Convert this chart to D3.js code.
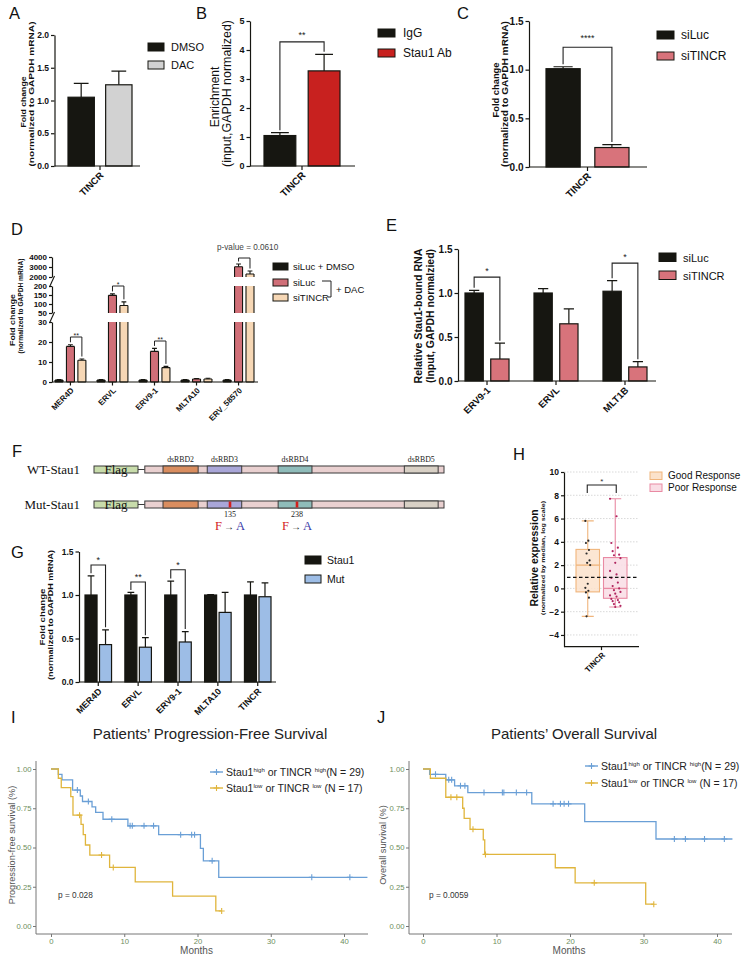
<!DOCTYPE html>
<html><head><meta charset="utf-8">
<script src="https://cdn.jsdelivr.net/npm/d3@7/dist/d3.min.js"></script>
<style>html,body{margin:0;padding:0;background:#fff;} svg{display:block;}</style>
</head><body>
<svg id="fig" width="742" height="961" xmlns="http://www.w3.org/2000/svg"></svg>
<script>
// ================= DATA =================
// Panel A
const aCategories = ["TINCR"];
const aSeries = ["DMSO", "DAC"];
const aValues = [[1.05], [1.24]];
const aErrors = [[0.21], [0.21]];
const aTicks = [0, 0.5, 1.0, 1.5, 2.0];
// Panel B
const bCategories = ["TINCR"];
const bSeries = ["IgG", "Stau1 Ab"];
const bValues = [[1.05], [3.28]];
const bErrors = [[0.10], [0.57]];
const bTicks = [0, 1, 2, 3, 4, 5];
const bSig = [{cat: "TINCR", a: 0, b: 1, level: 4.28, label: "**"}];
// Panel C
const cCategories = ["TINCR"];
const cSeries = ["siLuc", "siTINCR"];
const cValues = [[1.01], [0.20]];
const cErrors = [[0.02], [0.03]];
const cTicks = [0, 0.5, 1.0, 1.5];
const cSig = [{cat: "TINCR", a: 0, b: 1, level: 1.23, label: "****"}];
// Panel D
const dCategories = ["MER4D", "ERVL", "ERV9-1", "MLTA10", "ERV_58570"];
const dSeries = ["siLuc + DMSO", "siLuc", "siTINCR"];
const dValues = [[1, 1, 1, 1, 1], [17.8, 148, 15.3, 1.5, 3030], [10.9, 92, 7.2, 1.5, 2300]];
const dErrors = [[0.2, 0.2, 0.2, 0.2, 0.2], [0.8, 8, 1.5, 0.2, 270], [0.6, 20, 0.6, 0.4, 300]];
const dSegments = [[0, 30], [50, 200], [2000, 4000]];
const dTicks = [[0, 10, 20, 30], [50, 100, 150, 200], [2000, 3000, 4000]];
const dSig = [
  {cat: "MER4D", a: 1, b: 2, level: 22.5, label: "**"},
  {cat: "ERVL", a: 1, b: 2, level: 200, label: "*"},
  {cat: "ERV9-1", a: 1, b: 2, level: 20.5, label: "**"},
  {cat: "ERV_58570", a: 1, b: 2, level: 3900, label: ""}];
const dNote = "p-value = 0.0610";
// Panel E
const eCategories = ["ERV9-1", "ERVL", "MLT1B"];
const eSeries = ["siLuc", "siTINCR"];
const eValues = [[1.0, 1.0, 1.02], [0.25, 0.65, 0.16]];
const eErrors = [[0.03, 0.05, 0.12], [0.18, 0.17, 0.06]];
const eTicks = [0, 0.5, 1.0, 1.5];
const eSig = [{cat: "ERV9-1", a: 0, b: 1, level: 1.18, label: "*"}, {cat: "MLT1B", a: 0, b: 1, level: 1.34, label: "*"}];
// Panel F
const fRows = ["WT-Stau1", "Mut-Stau1"];
const fProtein = [4, 464];
const fDomains = ["dsRBD2", "dsRBD3", "dsRBD4", "dsRBD5"];
const fDomainStart = [32, 100, 209, 403];
const fDomainEnd = [86, 153, 261, 455];
const fMutations = [135, 238];
// Panel G
const gCategories = ["MER4D", "ERVL", "ERV9-1", "MLTA10", "TINCR"];
const gSeries = ["Stau1", "Mut"];
const gValues = [[1, 1, 1, 1, 1], [0.43, 0.40, 0.46, 0.80, 0.98]];
const gErrors = [[0.22, 0.03, 0.16, 0.005, 0.15], [0.17, 0.11, 0.12, 0.23, 0.16]];
const gTicks = [0, 0.5, 1.0, 1.5];
const gSig = [{cat: "MER4D", a: 0, b: 1, level: 1.345, label: "*"}, {cat: "ERVL", a: 0, b: 1, level: 1.15, label: "**"}, {cat: "ERV9-1", a: 0, b: 1, level: 1.29, label: "*"}];
// Panel H
const hCategories = ["TINCR"];
const hGroups = ["Good Response", "Poor Response"];
const hBoxStats = [[-2.4, -0.3, 2.0, 3.35, 5.8], [-1.6, -0.85, 0.0, 2.65, 7.7]]; // min,q1,median,q3,max
const hGoodPoints = [5.8, 4.1, 3.9, 3.3, 3.0, 2.4, 2.2, 2.0, 0.4, 0.05, -0.2, -0.35, -0.8, -2.4];
const hPoorPoints = [7.7, 6.2, 3.9, 3.5, 3.2, 2.9, 2.85, 2.6, 2.2, 1.5, 1.2, 0.9, 0.5, 0.2, 0.0, -0.15, -0.3, -0.45, -0.6, -0.7, -0.9, -1.0, -1.1, -1.2, -1.35, -1.5, -1.6];
const hTicks = [-4, -2, 0, 2, 4, 6, 8, 10];
const hReference = 0.95;
// Panel I (progression-free survival)
const iHighTimes = [0, 1.0, 1.5, 2.95, 4.0, 4.3, 5.6, 6.1, 7.1, 10.5, 14.7, 20.4, 20.8, 22.9];
const iHighSurv = [1, 0.966, 0.931, 0.866, 0.828, 0.793, 0.759, 0.724, 0.68, 0.638, 0.582, 0.495, 0.415, 0.31];
const iHighCensor = [3.6, 5.1, 8.3, 10.8, 11.1, 12.7, 14.0, 17.7, 19.2, 19.6, 22.0, 35.6, 40.8];
const iHighEnd = 43.2;
const iLowTimes = [0, 1.0, 1.4, 2.7, 3.0, 4.1, 4.4, 4.7, 5.3, 8.0, 11.5, 16.6, 22.5];
const iLowSurv = [1, 0.941, 0.882, 0.824, 0.706, 0.647, 0.582, 0.516, 0.452, 0.373, 0.281, 0.19, 0.096];
const iLowCensor = [3.9, 6.9, 8.5, 23.3];
const iLowEnd = 23.3;
const iPValue = "p = 0.028";
// Panel J (overall survival)
const jHighTimes = [0, 0.9, 3.1, 4.3, 6.1, 14.8, 22.0, 31.7];
const jHighSurv = [1, 0.966, 0.931, 0.893, 0.85, 0.778, 0.665, 0.554];
const jHighCensor = [1.7, 3.5, 3.9, 5.1, 5.7, 8.3, 10.8, 11.0, 12.7, 14.1, 17.7, 18.7, 19.2, 19.8, 34.2, 35.7, 38.3, 41.0];
const jHighEnd = 42.1;
const jLowTimes = [0, 1.0, 3.1, 5.4, 5.6, 6.4, 8.2, 8.4, 18.0, 20.7, 30.3];
const jLowSurv = [1, 0.941, 0.82, 0.75, 0.686, 0.616, 0.548, 0.456, 0.371, 0.275, 0.139];
const jLowCensor = [3.8, 4.6, 6.8, 8.5, 23.3, 31.4];
const jLowEnd = 31.4;
const jPValue = "p = 0.0059";
const kmTicksX = [0, 10, 20, 30, 40];
const kmTicksY = [0, 0.25, 0.5, 0.75, 1.0];
const kmLegendHigh = [["Stau1", 0], ["high", 1], [" or TINCR ", 0], ["high", 1], ["(N = 29)", 0]];
const kmLegendLow = [["Stau1", 0], ["low", 1], [" or TINCR ", 0], ["low", 1], [" (N = 17)", 0]];

// ================= DRAWING =================
const svg = d3.select("#fig");
const SANS = "'Liberation Sans', Arial, Helvetica, sans-serif";
const SERIF = "'Liberation Serif', 'Times New Roman', serif";
const INK = "#161611";

function addText(g, x, y, s, o = {}) {
  const t = g.append("text").attr("x", x).attr("y", y)
    .attr("font-family", o.family || SANS).attr("font-size", o.size || 10)
    .attr("font-weight", o.weight || "normal").attr("fill", o.fill || "#111")
    .attr("text-anchor", o.anchor || "start").text(s);
  if (o.len) t.attr("textLength", o.len).attr("lengthAdjust", "spacingAndGlyphs");
  return t;
}
function addRot(g, x, y, s, o = {}) {
  const t = g.append("text").attr("transform", `translate(${x},${y}) rotate(${o.angle ?? -90})`)
    .attr("font-family", o.family || SANS).attr("font-size", o.size || 10)
    .attr("font-weight", o.weight || "normal").attr("fill", o.fill || "#111")
    .attr("text-anchor", o.anchor || "middle").text(s);
  if (o.len) t.attr("textLength", o.len).attr("lengthAdjust", "spacingAndGlyphs");
  return t;
}
function styleTicks(ax, size, weight, fill) {
  ax.selectAll("text").attr("font-family", SANS).attr("font-size", size)
    .attr("font-weight", weight).attr("fill", fill || "#111");
}
function swatch(g, x, y, w, h, fill, stroke) {
  g.append("rect").attr("x", x).attr("y", y).attr("width", w).attr("height", h)
    .attr("fill", fill).attr("stroke", stroke || INK).attr("stroke-width", 1);
}

// panel letters
[["A", 9, 19], ["B", 196, 19], ["C", 457, 19], ["D", 11, 235], ["E", 386, 231], ["F", 12, 457],
 ["G", 11, 558], ["H", 513, 460], ["I", 11, 723], ["J", 377, 723]].forEach(([l, x, y]) =>
  addText(svg, x, y, l, {size: 16.5, fill: "#111"}));

// ---------- generic Prism-style grouped bar panel ----------
function barPanel(p) {
  const g = svg.append("g");
  const y = p.y, base = y(0);
  const gx = d3.scaleBand().domain(p.cats).range(p.barRange).paddingInner(p.gPad || 0).paddingOuter(0);
  const sx = d3.scaleBand().domain(d3.range(p.series.length)).range([0, gx.bandwidth()]).paddingInner(p.sPad);
  const bw = sx.bandwidth(), cap = bw * 0.28;
  const cx = (c, si) => gx(c) + sx(si) + bw / 2;
  p.series.forEach((s, si) => {
    const rows = p.cats.map((c, ci) => ({c, v: p.values[si][ci], e: p.errors[si][ci]}));
    g.selectAll(null).data(rows).join("path")
      .attr("d", d => `M${cx(d.c, si)},${y(d.v)}V${y(d.v + d.e)}M${cx(d.c, si) - cap},${y(d.v + d.e)}H${cx(d.c, si) + cap}`)
      .attr("stroke", INK).attr("stroke-width", 1.2).attr("fill", "none");
    g.selectAll(null).data(rows).join("rect")
      .attr("x", d => gx(d.c) + sx(si)).attr("width", bw)
      .attr("y", d => y(d.v)).attr("height", d => base - y(d.v))
      .attr("fill", p.colors[si]).attr("stroke", INK).attr("stroke-width", 1.2);
  });
  const ax = g.append("g").attr("transform", `translate(${p.axisX[0]},0)`)
    .call(d3.axisLeft(y).tickValues(p.ticks).tickFormat(p.fmt).tickSize(3.5).tickSizeOuter(0).tickPadding(2));
  ax.selectAll("path,line").attr("stroke", INK).attr("stroke-width", 1.2);
  styleTicks(ax, p.tickSize, "bold");
  g.append("line").attr("x1", p.axisX[0]).attr("x2", p.axisX[1]).attr("y1", base).attr("y2", base)
    .attr("stroke", INK).attr("stroke-width", 1.2);
  const gc = c => gx(c) + gx.bandwidth() / 2;
  g.selectAll(null).data(p.cats).join("line").attr("x1", gc).attr("x2", gc)
    .attr("y1", base).attr("y2", base + 4).attr("stroke", INK).attr("stroke-width", 1.2);
  g.selectAll(null).data(p.cats).join("text")
    .attr("transform", c => `translate(${gc(c) + 4},${base + 10}) rotate(-45)`)
    .attr("text-anchor", "end").attr("font-family", SANS).attr("font-weight", "bold")
    .attr("font-size", p.xSize).attr("fill", "#111").text(c => c);
  (p.sig || []).forEach(s => {
    const ci = p.cats.indexOf(s.cat);
    const x0 = cx(s.cat, s.a), x1 = cx(s.cat, s.b);
    const e0 = y(p.values[s.a][ci] + p.errors[s.a][ci]) - 2.5;
    const e1 = y(p.values[s.b][ci] + p.errors[s.b][ci]) - 2.5;
    const yl = y(s.level);
    g.append("path").attr("d", `M${x0},${e0}V${yl}H${x1}V${e1}`)
      .attr("fill", "none").attr("stroke", "#222").attr("stroke-width", 1.1);
    addText(g, (x0 + x1) / 2, yl - p.starOff, s.label, {size: p.starSize, anchor: "middle", fill: "#222"});
  });
  return g;
}

// ---------- A ----------
const gA = barPanel({cats: aCategories, series: aSeries, values: aValues, errors: aErrors,
  colors: [INK, "#d2d2d2"], y: d3.scaleLinear().domain([0, 2]).range([166, 35]),
  barRange: [68, 132], sPad: 0.3, axisX: [54.5, 140], ticks: aTicks, fmt: d3.format(".1f"),
  tickSize: 8.5, xSize: 9.5});
addRot(gA, 26, 102, "Fold change", {size: 8, weight: "bold", len: 51});
addRot(gA, 33.5, 94, "(normalized to GAPDH mRNA)", {size: 8, weight: "bold", len: 145});
swatch(gA, 148, 43, 16, 8, INK); addText(gA, 171, 51, aSeries[0], {size: 11});
swatch(gA, 148, 61, 16, 8, "#d2d2d2"); addText(gA, 171, 69, aSeries[1], {size: 11});

// ---------- B ----------
const gB = barPanel({cats: bCategories, series: bSeries, values: bValues, errors: bErrors,
  colors: [INK, "#c8211f"], y: d3.scaleLinear().domain([0, 5]).range([166, 21]),
  barRange: [264, 340], sPad: 0.28, axisX: [250, 355], ticks: bTicks, fmt: d3.format("d"),
  tickSize: 9, xSize: 10, sig: bSig, starOff: 4, starSize: 9});
addRot(gB, 219, 97, "Enrichment", {size: 12});
addRot(gB, 231, 93.5, "(input,GAPDH normalized)", {size: 12, len: 147});
swatch(gB, 378, 29, 17, 8, INK); addText(gB, 403, 37, bSeries[0], {size: 12});
swatch(gB, 378, 49, 17, 8, "#c8211f"); addText(gB, 403, 57, bSeries[1], {size: 12});

// ---------- C ----------
const gC = barPanel({cats: cCategories, series: cSeries, values: cValues, errors: cErrors,
  colors: [INK, "#d8737b"], y: d3.scaleLinear().domain([0, 1.5]).range([167, 21]),
  barRange: [546, 629], sPad: 0.3, axisX: [529, 647], ticks: cTicks, fmt: d3.format(".1f"),
  tickSize: 10, xSize: 10, sig: cSig, starOff: 6, starSize: 9});
addRot(gC, 499, 90, "Fold change", {size: 8.5, weight: "bold", len: 55});
addRot(gC, 507.5, 94, "(normalized to GAPDH mRNA)", {size: 8.5, weight: "bold", len: 146});
swatch(gC, 657, 31, 17, 8, INK); addText(gC, 681, 39, cSeries[0], {size: 12});
swatch(gC, 657, 52, 17, 8, "#d8737b"); addText(gC, 681, 60, cSeries[1], {size: 12});

// ---------- D (broken axis) ----------
(function () {
  const g = svg.append("g");
  const ranges = [[382, 322], [313, 286], [277, 257]];
  const colors = [INK, "#d06f78", "#f6d7b5"];
  const seg = dSegments.map((dom, i) => d3.scaleLinear().domain(dom).range(ranges[i]));
  const segOf = v => { for (let k = dSegments.length - 1; k >= 0; k--) if (v >= dSegments[k][0]) return k; return 0; };
  const yPos = v => seg[segOf(v)](v);
  const gx = d3.scaleBand().domain(dCategories).range([55, 254]).paddingInner(0.265).paddingOuter(0);
  const sx = d3.scaleBand().domain(d3.range(3)).range([0, gx.bandwidth()]).paddingInner(0.3);
  const bw = sx.bandwidth(), cap = bw * 0.3;
  const cx = (c, si) => gx(c) + sx(si) + bw / 2;
  const axisX = 52, base = ranges[0][0];
  dSeries.forEach((s, si) => {
    dCategories.forEach((c, ci) => {
      const v = dValues[si][ci], e = dErrors[si][ci];
      const x0 = gx(c) + sx(si), x1 = x0 + bw;
      g.append("path").attr("d", `M${cx(c, si)},${yPos(v)}V${yPos(v + e)}M${cx(c, si) - cap},${yPos(v + e)}H${cx(c, si) + cap}`)
        .attr("stroke", INK).attr("stroke-width", 1.1).attr("fill", "none");
      dSegments.forEach((dom, k) => {
        if (k > 0 && v <= dom[0]) return;
        const top = seg[k](Math.min(v, dom[1])), bot = seg[k](dom[0]);
        g.append("rect").attr("x", x0).attr("width", bw).attr("y", top).attr("height", bot - top)
          .attr("fill", colors[si]);
        let d = `M${x0},${bot}V${top}M${x1},${bot}V${top}`;
        if (v <= dom[1]) d += `M${x0},${top}H${x1}`;
        if (k === 0) d += `M${x0},${bot}H${x1}`;
        g.append("path").attr("d", d).attr("stroke", INK).attr("stroke-width", 1.1).attr("fill", "none");
      });
    });
  });
  seg.forEach((sc, k) => {
    const ax = g.append("g").attr("transform", `translate(${axisX},0)`)
      .call(d3.axisLeft(sc).tickValues(dTicks[k]).tickFormat(d3.format("d")).tickSize(3).tickSizeOuter(0).tickPadding(2));
    ax.selectAll("path,line").attr("stroke", INK).attr("stroke-width", 1.2);
    styleTicks(ax, 8, "bold");
  });
  for (let k = 0; k < ranges.length - 1; k++) {
    const yb = ranges[k][1], yt = ranges[k + 1][0];
    g.append("path").attr("d", `M${axisX - 2.5},${yb + 1}L${axisX + 2.5},${yt - 1}`)
      .attr("stroke", INK).attr("stroke-width", 1.1).attr("fill", "none");
  }
  g.append("line").attr("x1", axisX).attr("x2", 258).attr("y1", base).attr("y2", base).attr("stroke", INK).attr("stroke-width", 1.2);
  const gc = c => gx(c) + gx.bandwidth() / 2;
  g.selectAll(null).data(dCategories).join("line").attr("x1", gc).attr("x2", gc)
    .attr("y1", base).attr("y2", base + 3.5).attr("stroke", INK).attr("stroke-width", 1.2);
  g.selectAll(null).data(dCategories).join("text")
    .attr("transform", c => `translate(${gc(c) + 4},${base + 9}) rotate(-45)`)
    .attr("text-anchor", "end").attr("font-family", SANS).attr("font-weight", "bold")
    .attr("font-size", 8).attr("fill", "#111").text(c => c);
  dSig.forEach(s => {
    const ci = dCategories.indexOf(s.cat);
    const x0 = cx(s.cat, s.a), x1 = cx(s.cat, s.b);
    const e0 = yPos(dValues[s.a][ci] + dErrors[s.a][ci]) - 2.5;
    const e1 = yPos(dValues[s.b][ci] + dErrors[s.b][ci]) - 2.5;
    const yl = yPos(s.level);
    g.append("path").attr("d", `M${x0},${e0}V${yl}H${x1}V${e1}`)
      .attr("fill", "none").attr("stroke", "#222").attr("stroke-width", 1);
    if (s.label) addText(g, (x0 + x1) / 2, yl + 1, s.label, {size: 7, anchor: "middle", fill: "#222"});
  });
  addText(g, 217, 250, dNote, {size: 8.2, fill: "#444"});
  addRot(g, 14.5, 320, "Fold change", {size: 7.5, weight: "bold", len: 52});
  addRot(g, 22.5, 306, "(normalized to GAPDH mRNA)", {size: 7, weight: "bold", len: 95});
  swatch(g, 273, 263, 15, 7, colors[0]); addText(g, 293, 270, dSeries[0], {size: 9.5});
  swatch(g, 273, 279, 15, 7, colors[1]); addText(g, 293, 285.5, dSeries[1], {size: 9.5});
  swatch(g, 273, 294, 15, 7, colors[2]); addText(g, 293, 300.5, dSeries[2], {size: 9.5});
  g.append("path").attr("d", "M322,281H331V297H328").attr("fill", "none").attr("stroke", "#222").attr("stroke-width", 1);
  addText(g, 336, 292.5, "+ DAC", {size: 9.5});
})();

// ---------- E ----------
const gE = barPanel({cats: eCategories, series: eSeries, values: eValues, errors: eErrors,
  colors: [INK, "#d8737b"], y: d3.scaleLinear().domain([0, 1.5]).range([381, 249]),
  barRange: [465, 647], gPad: 0.362, sPad: 0.29, axisX: [458, 656], ticks: eTicks, fmt: d3.format(".1f"),
  tickSize: 10, xSize: 9.5, sig: eSig, starOff: 3, starSize: 9});
addRot(gE, 421.5, 316, "Relative Stau1-bound RNA", {size: 10, weight: "bold", len: 135});
addRot(gE, 433.5, 316, "(Input, GAPDH normalzied)", {size: 10, weight: "bold", len: 134});
swatch(gE, 659, 253, 17, 8.5, INK); addText(gE, 683, 261.5, eSeries[0], {size: 11});
swatch(gE, 659, 271, 17, 8.5, "#d8737b"); addText(gE, 683, 279.5, eSeries[1], {size: 11});

// ---------- F (domain diagram) ----------
(function () {
  const g = svg.append("g");
  const fx = d3.scaleLinear().domain([0, 464]).range([142.2, 444]);
  const rowY = d3.scaleBand().domain(fRows).range([466, 508]).paddingInner(0.8);
  const dColors = ["#d98d5f", "#a9a6d8", "#8fbcba", "#d8d0c5"];
  const st = "#3a3a3a";
  fRows.forEach((r, ri) => {
    const y0 = rowY(r), h = rowY.bandwidth();
    addText(g, 80, y0 + h / 2 + 4.5, r, {family: SERIF, size: 13, anchor: "end"});
    g.append("rect").attr("x", 94).attr("y", y0).attr("width", 44).attr("height", h)
      .attr("fill", "#c8dcab").attr("stroke", st).attr("stroke-width", 1);
    addText(g, 116, y0 + h / 2 + 4.5, "Flag", {family: SERIF, size: 13, anchor: "middle"});
    g.append("line").attr("x1", 138).attr("x2", fx(fProtein[0])).attr("y1", y0 + h / 2).attr("y2", y0 + h / 2)
      .attr("stroke", st).attr("stroke-width", 1);
    g.append("rect").attr("x", fx(fProtein[0])).attr("y", y0).attr("width", fx(fProtein[1]) - fx(fProtein[0])).attr("height", h)
      .attr("fill", "#e9d0d0").attr("stroke", st).attr("stroke-width", 1);
    fDomains.forEach((d, di) => {
      g.append("rect").attr("x", fx(fDomainStart[di])).attr("y", y0)
        .attr("width", fx(fDomainEnd[di]) - fx(fDomainStart[di])).attr("height", h)
        .attr("fill", dColors[di]).attr("stroke", st).attr("stroke-width", 1);
      if (ri === 0) addText(g, (fx(fDomainStart[di]) + fx(fDomainEnd[di])) / 2, y0 - 4, d, {family: SERIF, size: 7.8, anchor: "middle", fill: "#222"});
    });
    if (ri === 1) {
      fMutations.forEach(m => {
        g.append("rect").attr("x", fx(m) - 1.3).attr("y", y0 + 0.5).attr("width", 2.6).attr("height", h - 1).attr("fill", "#d3201d");
        addText(g, fx(m), y0 + h + 9, String(m), {family: SERIF, size: 8, anchor: "middle", fill: "#222"});
        const t = g.append("text").attr("x", fx(m)).attr("y", y0 + h + 22).attr("text-anchor", "middle")
          .attr("font-family", SERIF).attr("font-size", 12.5);
        t.append("tspan").attr("fill", "#d3201d").text("F");
        t.append("tspan").attr("fill", "#222").attr("font-family", SANS).attr("font-size", 10).text("\u2009\u2192\u2009");
        t.append("tspan").attr("fill", "#3a3aa8").text("A");
      });
    }
  });
})();

// ---------- G ----------
const gG = barPanel({cats: gCategories, series: gSeries, values: gValues, errors: gErrors,
  colors: [INK, "#9dbde6"], y: d3.scaleLinear().domain([0, 1.5]).range([682, 551.5]),
  barRange: [85, 271], gPad: 0.334, sPad: 0.17, axisX: [79, 276], ticks: gTicks, fmt: d3.format(".1f"),
  tickSize: 8.5, xSize: 9, sig: gSig, starOff: 2, starSize: 9});
addRot(gG, 45, 617, "Fold change", {size: 8, weight: "bold", len: 57});
addRot(gG, 53, 615, "(normalized to GAPDH mRNA)", {size: 8, weight: "bold", len: 130});
swatch(gG, 305, 556, 16, 8, INK); addText(gG, 327, 564, gSeries[0], {size: 10.5});
swatch(gG, 305, 575, 16, 8, "#9dbde6"); addText(gG, 327, 583, gSeries[1], {size: 10.5});

// ---------- H (box plot) ----------
(function () {
  const g = svg.append("g");
  const y = d3.scaleLinear().domain([-5, 10]).range([646.6, 472]);
  const axisX = 564, xEnd = 639;
  const bx = d3.scaleBand().domain(hGroups).range([576, 627]).paddingInner(0.145);
  const fills = ["#fbe2cb", "#f9dde5"], strokes = ["#f0b57c", "#e98aa3"], dots = ["#2a2a2a", "#b02660"];
  const pts = [hGoodPoints, hPoorPoints];
  hTicks.forEach(t => g.append("line").attr("x1", axisX).attr("x2", xEnd).attr("y1", y(t)).attr("y2", y(t))
    .attr("stroke", "#cfcfcf").attr("stroke-width", 0.8).attr("stroke-dasharray", "1.5,1.5"));
  hGroups.forEach((grp, gi) => {
    const [mn, q1, md, q3, mx] = hBoxStats[gi];
    const x0 = bx(grp), w = bx.bandwidth(), c = x0 + w / 2;
    g.append("path").attr("d", `M${c},${y(q3)}V${y(mx)}M${c - 6},${y(mx)}H${c + 6}M${c},${y(q1)}V${y(mn)}M${c - 6},${y(mn)}H${c + 6}`)
      .attr("stroke", strokes[gi]).attr("stroke-width", 1.1).attr("fill", "none");
    g.append("rect").attr("x", x0).attr("y", y(q3)).attr("width", w).attr("height", y(q1) - y(q3))
      .attr("fill", fills[gi]).attr("fill-opacity", 0.85).attr("stroke", strokes[gi]).attr("stroke-width", 1.1);
    g.append("line").attr("x1", x0).attr("x2", x0 + w).attr("y1", y(md)).attr("y2", y(md))
      .attr("stroke", strokes[gi]).attr("stroke-width", 1.3);
    g.selectAll(null).data(pts[gi]).join("circle")
      .attr("cx", (d, i) => c + (((i * 5) % 9) - 4) * (gi ? 1.3 : 0.6))
      .attr("cy", d => y(d)).attr("r", 1.1).attr("fill", dots[gi]);
  });
  g.append("line").attr("x1", 567).attr("x2", xEnd).attr("y1", y(hReference)).attr("y2", y(hReference))
    .attr("stroke", "#111").attr("stroke-width", 1.3).attr("stroke-dasharray", "3.5,2.5");
  const ax = g.append("g").attr("transform", `translate(${axisX},0)`)
    .call(d3.axisLeft(y).tickValues(hTicks).tickFormat(d3.format("d")).tickSize(3).tickSizeOuter(0).tickPadding(2));
  ax.selectAll("path,line").attr("stroke", INK).attr("stroke-width", 1.2);
  styleTicks(ax, 8.5, "bold");
  const base = y(-5);
  g.append("line").attr("x1", axisX).attr("x2", xEnd).attr("y1", base).attr("y2", base).attr("stroke", INK).attr("stroke-width", 1.2);
  const cx = (bx(hGroups[0]) + bx(hGroups[1]) + bx.bandwidth()) / 2;
  g.append("line").attr("x1", cx).attr("x2", cx).attr("y1", base).attr("y2", base + 3.5).attr("stroke", INK).attr("stroke-width", 1.2);
  g.append("text").attr("transform", `translate(${cx + 4},${base + 9}) rotate(-45)`).attr("text-anchor", "end")
    .attr("font-family", SANS).attr("font-weight", "bold").attr("font-size", 8).attr("fill", "#111").text(hCategories[0]);
  const c0 = bx(hGroups[0]) + bx.bandwidth() / 2 - 0.5, c1 = bx(hGroups[1]) + bx.bandwidth() / 2 + 1;
  g.append("path").attr("d", `M${c0},${y(8.2)}V${y(8.88)}H${c1}V${y(8.2)}`).attr("fill", "none").attr("stroke", "#222").attr("stroke-width", 1.1);
  addText(g, (c0 + c1) / 2, y(8.88) - 1, "*", {size: 8, anchor: "middle", fill: "#333"});
  addRot(g, 537.5, 558, "Relative expression", {size: 10, weight: "bold", len: 97});
  addRot(g, 545, 558, "(normalized by median, log scale)", {size: 6, weight: "bold", len: 114});
  swatch(g, 650, 472, 12, 7.5, fills[0], strokes[0]); addText(g, 668, 479, hGroups[0], {size: 10});
  swatch(g, 650, 484, 12, 7.5, fills[1], strokes[1]); addText(g, 668, 491, hGroups[1], {size: 10});
})();

// ---------- Kaplan–Meier panels ----------
const BLUE = "#6a9fd6", GOLD = "#e0b53c", TICKC = "#6e8e5c";
function kmPanel(p) {
  const g = svg.append("g");
  const x = d3.scaleLinear().domain([0, 40]).range(p.xRange);
  const y = d3.scaleLinear().domain([0, 1]).range([926, 769]);
  const ax0 = p.axisX[0], ax1 = p.axisX[1], base = 934;
  addText(g, p.titleX, 739, p.title, {size: 15, anchor: "middle", fill: "#222"});
  g.append("line").attr("x1", ax0).attr("x2", ax0).attr("y1", 761).attr("y2", base).attr("stroke", "#777").attr("stroke-width", 1);
  g.append("line").attr("x1", ax0).attr("x2", ax1).attr("y1", base).attr("y2", base).attr("stroke", "#777").attr("stroke-width", 1);
  const ya = g.append("g").attr("transform", `translate(${ax0},0)`)
    .call(d3.axisLeft(y).tickValues(kmTicksY).tickFormat(d3.format(".2f")).tickSize(3).tickPadding(1.5));
  ya.select(".domain").remove(); ya.selectAll("line").attr("stroke", "#777");
  styleTicks(ya, 7.7, "normal", TICKC);
  const xa = g.append("g").attr("transform", `translate(0,${base})`)
    .call(d3.axisBottom(x).tickValues(kmTicksX).tickFormat(d3.format("d")).tickSize(3).tickPadding(1.5));
  xa.select(".domain").remove(); xa.selectAll("line").attr("stroke", "#777");
  styleTicks(xa, 7.7, "normal", TICKC);
  const line = d3.line().x(d => x(d[0])).y(d => y(d[1])).curve(d3.curveStepAfter);
  const plus = (px, py, col) => g.append("path").attr("d", `M${px - 3},${py}H${px + 3}M${px},${py - 3}V${py + 3}`)
    .attr("stroke", col).attr("stroke-width", 1.1);
  p.curves.forEach(c => {
    const pts = c.times.map((t, i) => [t, c.surv[i]]);
    pts.push([c.end, c.surv[c.surv.length - 1]]);
    g.append("path").attr("d", line(pts)).attr("fill", "none").attr("stroke", c.color).attr("stroke-width", 1.3);
    c.censor.forEach(t => plus(x(t), y(c.surv[d3.bisectRight(c.times, t) - 1]), c.color));
  });
  addText(g, p.pX, 898, p.pText, {size: 8.3, fill: "#333"});
  addRot(g, p.yLabX, 845, p.yLabel, {size: 9.2, fill: "#555"});
  addText(g, (x(0) + x(40)) / 2 - 1, 954, "Months", {size: 10, anchor: "middle", fill: "#555"});
  p.curves.forEach((c, ci) => {
    const ly = p.legY[ci];
    g.append("line").attr("x1", p.legX).attr("x2", p.legX + 13).attr("y1", ly).attr("y2", ly).attr("stroke", c.color).attr("stroke-width", 1.4);
    plus(p.legX + 6.5, ly, c.color);
    const t = g.append("text").attr("x", p.legX + 16).attr("y", ly + 4).attr("font-family", SANS)
      .attr("font-size", 10.5).attr("fill", "#222");
    c.legend.forEach(([s, sup], i) => {
      const ts = t.append("tspan").text(s);
      const prevSup = i > 0 ? c.legend[i - 1][1] : 0;
      if (sup) ts.attr("font-size", 6).attr("dy", -4);
      else if (prevSup) ts.attr("dy", 4);
    });
  });
}
kmPanel({title: "Patients\u2019 Progression-Free Survival", titleX: 210, xRange: [51, 344], axisX: [36, 368],
  pText: iPValue, pX: 58, yLabel: "Progression-free survival (%)", yLabX: 14.5, legX: 210, legY: [772, 788],
  curves: [
    {times: iHighTimes, surv: iHighSurv, censor: iHighCensor, end: iHighEnd, color: BLUE, legend: kmLegendHigh},
    {times: iLowTimes, surv: iLowSurv, censor: iLowCensor, end: iLowEnd, color: GOLD, legend: kmLegendLow}]});
kmPanel({title: "Patients\u2019 Overall Survival", titleX: 574, xRange: [423, 717], axisX: [409, 732],
  pText: jPValue, pX: 429, yLabel: "Overall survival (%)", yLabX: 386, legX: 585, legY: [766, 783],
  curves: [
    {times: jHighTimes, surv: jHighSurv, censor: jHighCensor, end: jHighEnd, color: BLUE, legend: kmLegendHigh},
    {times: jLowTimes, surv: jLowSurv, censor: jLowCensor, end: jLowEnd, color: GOLD, legend: kmLegendLow}]});
</script>
</body></html>
